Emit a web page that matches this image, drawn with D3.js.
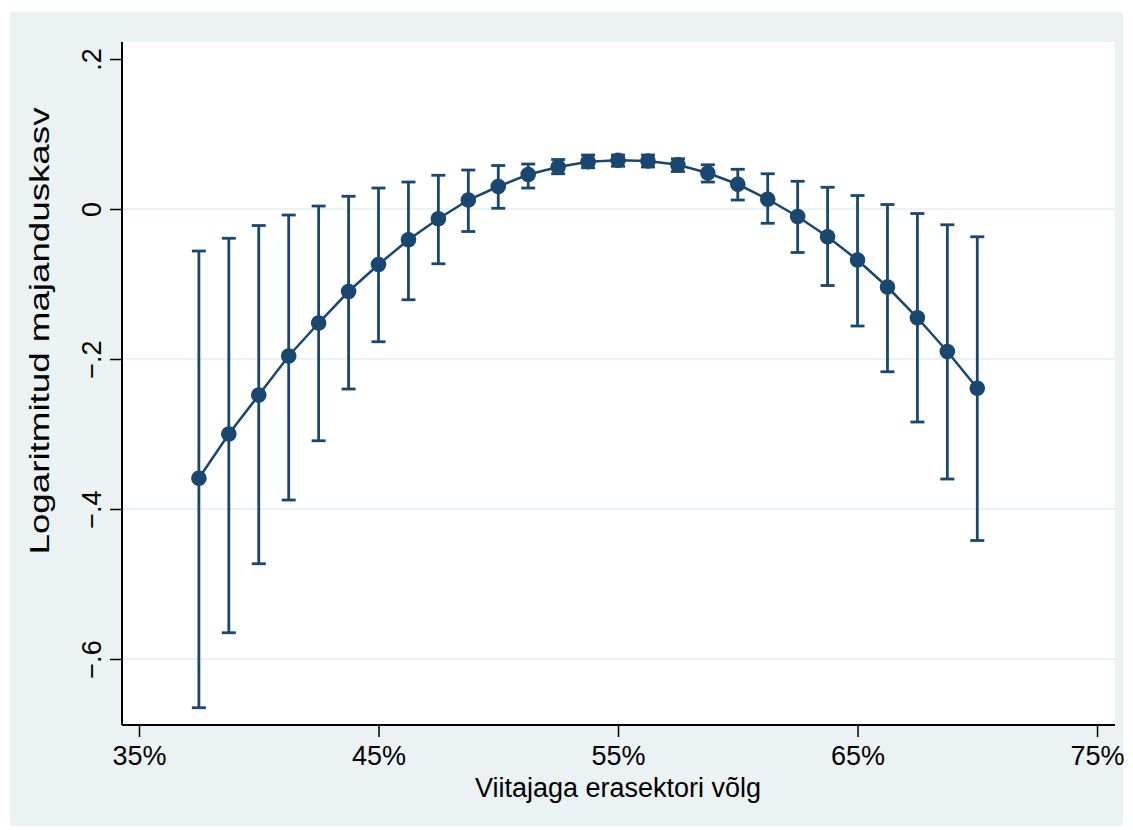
<!DOCTYPE html>
<html lang="et">
<head>
  <meta charset="UTF-8">
  <title>Majanduskasv ja erasektori võlg</title>
  <script src="https://d3js.org/d3.v7.min.js"></script>
  <style>
    body { margin: 0; background: #fff; }
    text { font-family: "Liberation Sans", Arial, sans-serif; fill: #000; }
  </style>
</head>
<body>
<svg id="chart"></svg>
<script>
// values
var debtShare = [37.5, 38.75, 40, 41.25, 42.5, 43.75, 45, 46.25, 47.5, 48.75, 50, 51.25, 52.5, 53.75,
                 55, 56.25, 57.5, 58.75, 60, 61.25, 62.5, 63.75, 65, 66.25, 67.5, 68.75, 70];
var growth = [-0.359, -0.300, -0.248, -0.196, -0.152, -0.110, -0.074, -0.041, -0.013, 0.012, 0.030, 0.046, 0.056, 0.063,
              0.065, 0.064, 0.059, 0.048, 0.033, 0.013, -0.010, -0.037, -0.068, -0.104, -0.145, -0.190, -0.239];
var ciHigh = [-0.056, -0.039, -0.022, -0.008, 0.004, 0.017, 0.028, 0.036, 0.045, 0.052, 0.058, 0.060, 0.066, 0.072,
              0.072, 0.072, 0.067, 0.059, 0.053, 0.047, 0.037, 0.029, 0.018, 0.006, -0.006, -0.021, -0.037];
var ciLow = [-0.665, -0.565, -0.473, -0.388, -0.309, -0.240, -0.177, -0.121, -0.073, -0.030, 0.001, 0.028, 0.047, 0.055,
             0.057, 0.056, 0.050, 0.036, 0.012, -0.019, -0.058, -0.102, -0.156, -0.217, -0.284, -0.360, -0.442];
var xTicks = [35, 45, 55, 65, 75];
var yTicks = [0.2, 0, -0.2, -0.4, -0.6];

var W = 1133, H = 830;
var m = { left: 122, right: 1115, top: 42, bottom: 725 };
var navy = "#1a476f";

var svg = d3.select("#chart").attr("width", W).attr("height", H);

svg.append("rect").attr("x", 10).attr("y", 12).attr("width", 1113).attr("height", 814).attr("fill", "#eaf2f3");
svg.append("rect").attr("x", m.left).attr("y", m.top).attr("width", m.right - m.left).attr("height", m.bottom - m.top).attr("fill", "#fff");

var x = d3.scaleLinear().domain([34.29, 75.75]).range([m.left, m.right]);
var y = d3.scaleLinear().domain([-0.688, 0.2227]).range([m.bottom, m.top]);

// grid
svg.selectAll("line.grid")
  .data(yTicks.filter(function(d) { return d !== 0.2; }))
  .enter().append("line")
  .attr("class", "grid")
  .attr("x1", m.left).attr("x2", m.right)
  .attr("y1", function(d) { return y(d); }).attr("y2", function(d) { return y(d); })
  .attr("stroke", "#eaf2f3").attr("stroke-width", 2);

// axes
var yAxis = d3.axisLeft(y).tickValues(yTicks).tickSize(12)
  .tickFormat(function(d) { return d === 0 ? "0" : d3.format(".1f")(d).replace("0.", "."); });
var gy = svg.append("g").attr("transform", "translate(" + m.left + ",0)").call(yAxis);
gy.select(".domain").attr("stroke", "#000").attr("stroke-width", 2).attr("d", "M0," + m.top + "V" + m.bottom);
gy.selectAll(".tick line").attr("stroke", "#000").attr("stroke-width", 1.5);
gy.selectAll(".tick text")
  .attr("font-size", 27).attr("text-anchor", "middle").attr("dy", 0)
  .attr("x", 0).attr("y", 0)
  .attr("transform", "translate(-21,0) rotate(-90)");

var xAxis = d3.axisBottom(x).tickValues(xTicks).tickSize(12).tickPadding(8)
  .tickFormat(function(d) { return d + "%"; });
var gx = svg.append("g").attr("transform", "translate(0," + m.bottom + ")").call(xAxis);
gx.select(".domain").attr("stroke", "#000").attr("stroke-width", 2).attr("d", "M" + m.left + ",0H" + m.right);
gx.selectAll(".tick line").attr("stroke", "#000").attr("stroke-width", 1.5);
gx.selectAll(".tick text").attr("font-size", 27).attr("dy", "0.75em");

svg.append("text").attr("x", 618).attr("y", 797).attr("text-anchor", "middle").attr("font-size", 27)
  .text("Viitajaga erasektori võlg");
svg.append("text").attr("transform", "translate(49,331) rotate(-90)").attr("text-anchor", "middle").attr("font-size", 27)
  .attr("textLength", 447).attr("lengthAdjust", "spacingAndGlyphs")
  .text("Logaritmitud majanduskasv");

// confidence intervals
var pts = debtShare.map(function(d, i) { return { x: d, v: growth[i], hi: ciHigh[i], lo: ciLow[i] }; });
var ci = svg.append("g").attr("stroke", navy).attr("stroke-width", 2.8);
ci.selectAll("line.bar").data(pts).enter().append("line")
  .attr("x1", function(d) { return x(d.x); }).attr("x2", function(d) { return x(d.x); })
  .attr("y1", function(d) { return y(d.hi); }).attr("y2", function(d) { return y(d.lo); });
ci.selectAll("line.capHi").data(pts).enter().append("line")
  .attr("x1", function(d) { return x(d.x) - 7; }).attr("x2", function(d) { return x(d.x) + 7; })
  .attr("y1", function(d) { return y(d.hi); }).attr("y2", function(d) { return y(d.hi); });
ci.selectAll("line.capLo").data(pts).enter().append("line")
  .attr("x1", function(d) { return x(d.x) - 7; }).attr("x2", function(d) { return x(d.x) + 7; })
  .attr("y1", function(d) { return y(d.lo); }).attr("y2", function(d) { return y(d.lo); });

// connected estimates
var line = d3.line().x(function(d) { return x(d.x); }).y(function(d) { return y(d.v); });
svg.append("path").datum(pts).attr("d", line).attr("fill", "none").attr("stroke", navy).attr("stroke-width", 2.5);
svg.selectAll("circle.pt").data(pts).enter().append("circle")
  .attr("cx", function(d) { return x(d.x); }).attr("cy", function(d) { return y(d.v); })
  .attr("r", 7.8).attr("fill", navy);
</script>
</body>
</html>
